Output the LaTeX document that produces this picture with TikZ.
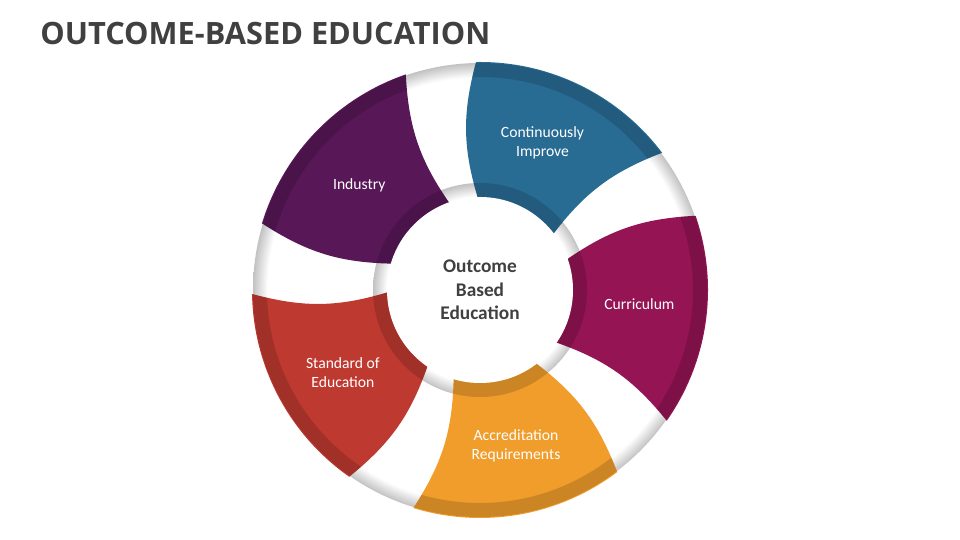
\documentclass[tikz,border=0pt]{standalone}
\usepackage{fontspec}
\setmainfont{Carlito}
\newfontfamily\titlefont{Open Sans}

\definecolor{titlegray}{HTML}{404040}
\definecolor{hubgray}{HTML}{404040}
\definecolor{ringgray}{HTML}{C2C2C2}
\definecolor{blueseg}{HTML}{286C93}
\definecolor{purpleseg}{HTML}{581858}
\definecolor{redseg}{HTML}{BE3930}
\definecolor{orangeseg}{HTML}{F09D2B}
\definecolor{magentaseg}{HTML}{941454}

\pgfdeclareradialshading{outer ring}{\pgfpoint{0bp}{0bp}}{color(0bp)=(white); color(23.4bp)=(white); color(25bp)=(ringgray); color(50bp)=(ringgray)}
\pgfdeclareradialshading{inner ring}{\pgfpoint{0bp}{0bp}}{color(0bp)=(white); color(21.8bp)=(white); color(25bp)=(ringgray); color(50bp)=(ringgray)}

\def\rout{4.56}
\def\rin{1.8}
% one petal of the wheel, starting at angle #1
\newcommand{\petal}[1]{(#1:\rout) arc[start angle=#1, end angle={#1+54}, radius=\rout]
    to[bend right=16] ({#1+54}:\rin) arc[start angle={#1+54}, end angle=#1, radius=\rin]
    to[bend left=16] (#1:\rout) -- cycle}

\begin{document}
\begin{tikzpicture}
    \useasboundingbox (0,0) rectangle (19.2,10.8);
    \tikzstyle{petal text}=[text=white, align=center, font=\fontsize{8.9}{10.8}\selectfont]
    \tikzstyle{hub text}=[text=hubgray, align=center, font=\bfseries\fontsize{11}{13.4}\selectfont]
    \tikzstyle{hub}=[circle, fill=white, minimum size=3.72cm, inner sep=0pt]

    % Title
    \node[anchor=base west, inner sep=0pt, text=titlegray, font=\titlefont\bfseries\fontsize{17.5}{21}\selectfont] (title) at (0.8,9.9) {OUTCOME-BASED EDUCATION};

    \begin{scope}[shift={(9.6,5.0)}]
    % Draw the two grey rings
    \shade[shading=outer ring] (0,0) circle (4.54);
    \shade[shading=inner ring] (0,0) circle (2.14);

    % Draw the petals, darker where they cross the rings
    \foreach \a / \col in {37/blueseg,109/purpleseg,181/redseg,253/orangeseg,325/magentaseg} {
        \fill[\col] \petal{\a};
        \begin{scope}
            \clip \petal{\a};
            \fill[black, opacity=.15, even odd rule] (0,0) circle (4.54) circle (4.26) circle (2.14) circle (1.86);
        \end{scope}
    }

    % The hub in the middle
    \node[hub] (hub) at (0,0) {};
    \node[hub text] (hublabel) at (hub) {Outcome\\Based\\Education};

    % Annotate the petals
    \foreach \a / \name / \txt in {37/improve/{Continuously\\Improve}, 109/industry/Industry,
            181/standard/{Standard of\\Education}, 253/accreditation/{Accreditation\\Requirements},
            325/curriculum/Curriculum}
        \node[petal text] (\name) at ({\a+30}:3.2) {\txt};
    \end{scope}
\end{tikzpicture}
\end{document}
